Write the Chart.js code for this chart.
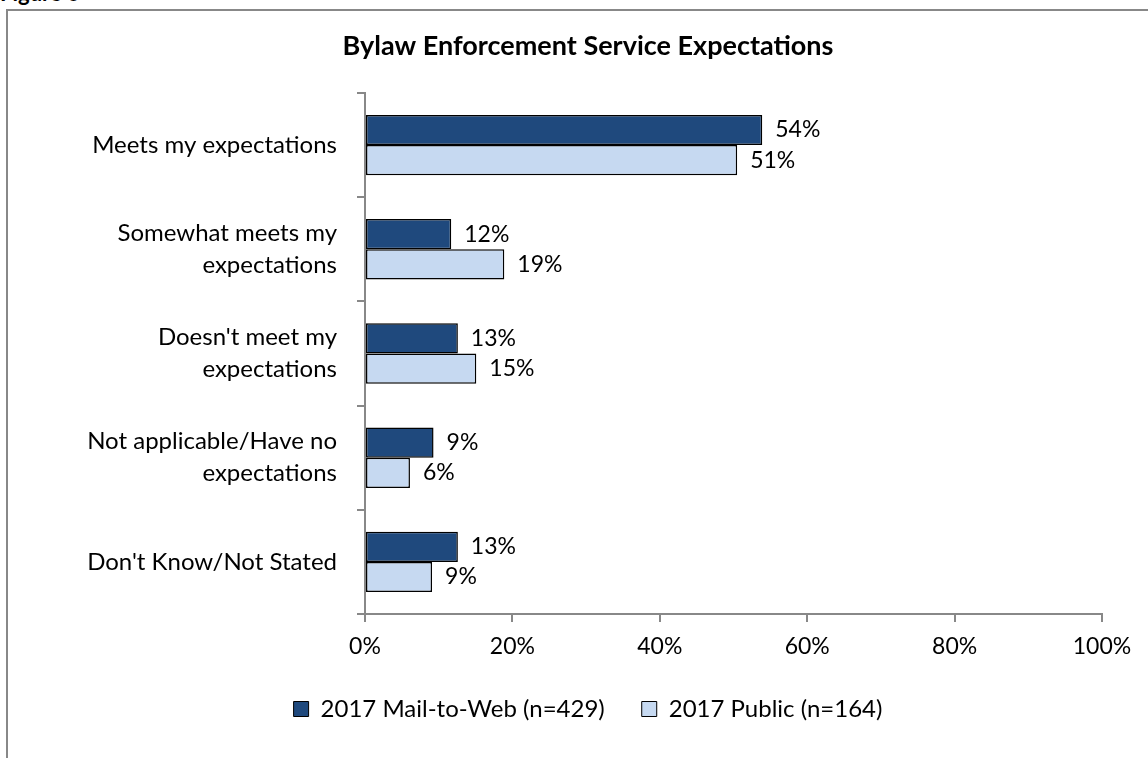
<!DOCTYPE html>
<html>
<head>
<meta charset="utf-8">
<title>Bylaw Enforcement Service Expectations</title>
<script src="https://cdn.jsdelivr.net/npm/chart.js@4/dist/chart.umd.min.js"></script>
<style>
 html, body { margin: 0; padding: 0; background: #fff; overflow: hidden; }
 #wrap { position: relative; width: 1148px; height: 758px; overflow: hidden; }
 #fig { position: absolute; left: 0; top: -21px; font: bold 22px Lato, sans-serif; color: #000; }
 #frame { position: absolute; left: 6px; top: 9px; width: 1200px; height: 800px; border: 2px solid #888; }
 #chart { position: absolute; left: 0; top: 0; }
</style>
</head>
<body>
<div id="wrap">
 <div id="fig">Figure 6</div>
 <div id="frame"></div>
 <canvas id="chart" width="1176" height="758"></canvas>
</div>
<script>
// Categorias e valores (%)
const categories = [
 "Meets my expectations",
 ["Somewhat meets my", "expectations"],
 ["Doesn't meet my", "expectations"],
 ["Not applicable/Have no", "expectations"],
 "Don't Know/Not Stated"
];
const mailToWeb = [53.9, 11.7, 12.6, 9.3, 12.6];
const publicSurvey = [50.5, 18.9, 15.1, 6.1, 9.1];
const seriesNames = ["2017 Mail-to-Web (n=429)", "2017 Public (n=164)"];
const xTicks = [0, 20, 40, 60, 80, 100];

const FONT = "Lato";

// rtulos de valor ao lado das barras
const valueLabels = {
 id: "valueLabels",
 afterDatasetsDraw(chart) {
 const ctx = chart.ctx;
 ctx.save();
 ctx.font = "23px " + FONT;
 ctx.fillStyle = "#000";
 ctx.textAlign = "left";
 ctx.textBaseline = "middle";
 chart.data.datasets.forEach((ds, i) => {
 chart.getDatasetMeta(i).data.forEach((bar, j) => {
 ctx.fillText(Math.round(ds.data[j]) + "%", bar.x + 13, bar.y);
 });
 });
 ctx.restore();
 }
};

const ctx = document.getElementById("chart").getContext("2d");

new Chart(ctx, {
 type: "bar",
 data: {
 labels: categories,
 datasets: [
 {
 label: seriesNames[0],
 data: mailToWeb,
 backgroundColor: "#1F497D",
 borderColor: "#000",
 borderWidth: 1.5,
 borderSkipped: false,
 categoryPercentage: 0.58,
 barPercentage: 1
 },
 {
 label: seriesNames[1],
 data: publicSurvey,
 backgroundColor: "#C6D9F1",
 borderColor: "#000",
 borderWidth: 1.5,
 borderSkipped: false,
 categoryPercentage: 0.58,
 barPercentage: 1
 }
 ]
 },
 options: {
 responsive: false,
 animation: false,
 indexAxis: "y",
 layout: { padding: { left: 0, right: 0, top: 0, bottom: 27 } },
 plugins: {
 title: {
 display: true,
 text: "Bylaw Enforcement Service Expectations",
 color: "#000",
 font: { family: FONT, size: 27, weight: "bold" },
 padding: { top: 30, bottom: 30.6 }
 },
 legend: {
 position: "bottom",
 labels: {
 color: "#000",
 font: { family: FONT, size: 24 },
 boxWidth: 15,
 boxHeight: 15,
 padding: 37,
 generateLabels(chart) {
 return chart.data.datasets.map((ds, i) => ({
 text: ds.label,
 fillStyle: ds.backgroundColor,
 strokeStyle: "#000",
 lineWidth: 1,
 datasetIndex: i,
 fontColor: "#000"
 }));
 }
 }
 },
 tooltip: { enabled: false }
 },
 scales: {
 x: {
 min: 0,
 max: 100,
 afterBuildTicks(scale) {
 scale.ticks = xTicks.map(v => ({ value: v }));
 },
 ticks: {
 color: "#000",
 font: { family: FONT, size: 23 },
 padding: 11,
 callback: v => v + "%"
 },
 grid: { drawOnChartArea: false, drawTicks: true, tickLength: 8, color: "#888", lineWidth: 2 },
 border: { color: "#888", width: 2 },
 afterFit(scale) { scale.height = 46; }
 },
 y: {
 ticks: {
 color: "#000",
 font: { family: FONT, size: 24, lineHeight: 1.33 },
 padding: 20
 },
 grid: { drawOnChartArea: false, drawTicks: true, tickLength: 8, color: "#888", lineWidth: 2, offset: true },
 border: { color: "#888", width: 2 },
 afterFit(scale) { scale.width = 365; }
 },
 spacer: {
 axis: "y",
 position: "right",
 display: true,
 ticks: { display: false },
 grid: { display: false },
 border: { display: false },
 afterFit(scale) { scale.width = 74; }
 }
 }
 },
 plugins: [valueLabels]
});
</script>
</body>
</html>
